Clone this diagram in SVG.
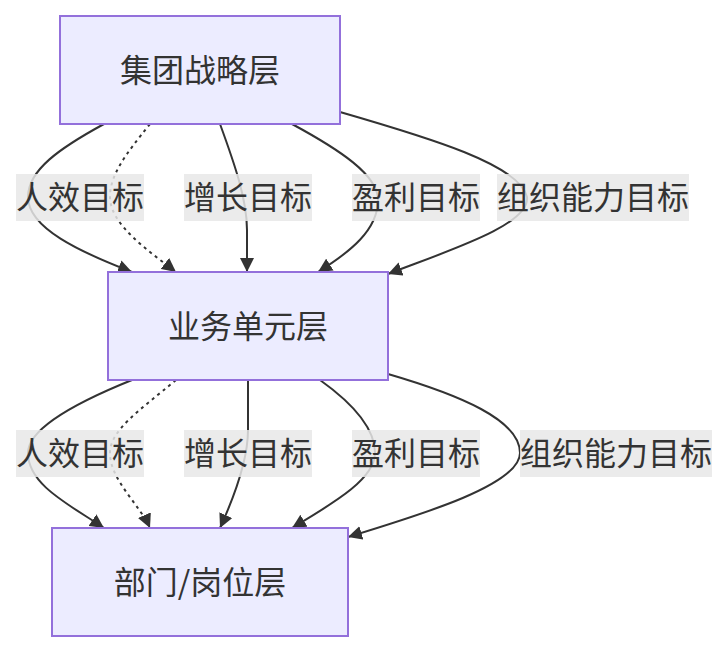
<svg xmlns="http://www.w3.org/2000/svg" width="728" height="652" viewBox="0 0 728 652">
<style>
.node rect{fill:#ECECFF;stroke:#9370DB;stroke-width:2}
text{font-family:"Noto Sans CJK SC","Noto Sans",sans-serif;font-size:32px;fill:#333;text-anchor:middle;dominant-baseline:central}
.e{fill:none;stroke:#333;stroke-width:2}
.d{stroke-dasharray:3 4}
.lb{fill:#e8e8e8;fill-opacity:0.85}
</style>
<defs>
<marker id="arr" markerUnits="userSpaceOnUse" markerWidth="14" markerHeight="14" viewBox="0 0 10 10" refX="10" refY="5" orient="auto">
<path d="M0,0 L10,5 L0,10 z" fill="#333"/>
</marker>
</defs>
<g id="edges">
<path class="e" marker-end="url(#arr)" d="M104,124 C60,148 28,170 28,197 C28,228 80,252 132,272"/>
<path class="e d" marker-end="url(#arr)" d="M150,124 C125,155 110,175 110,197 C110,225 150,252 176,272"/>
<path class="e" marker-end="url(#arr)" d="M220,124 C235,165 247,200 247,230 L247,272"/>
<path class="e" marker-end="url(#arr)" d="M292,124 C340,150 378,175 378,200 C378,230 350,252 318,272"/>
<path class="e" marker-end="url(#arr)" d="M340,112 C430,138 520,165 527,197 C530,225 450,250 388,274"/>
<path class="e" marker-end="url(#arr)" d="M132,380 C70,405 28,430 28,453 C28,485 70,505 104,528"/>
<path class="e d" marker-end="url(#arr)" d="M176,380 C140,410 110,430 110,453 C110,480 140,505 150,528"/>
<path class="e" marker-end="url(#arr)" d="M248,380 L248,430 C248,460 235,495 220,528"/>
<path class="e" marker-end="url(#arr)" d="M320,380 C355,405 375,430 375,453 C375,480 330,505 292,528"/>
<path class="e" marker-end="url(#arr)" d="M388,374 C460,395 520,420 520,453 C520,485 420,515 348,537"/>
</g>
<g id="labels">
<rect class="lb" x="16" y="174" width="128" height="47"/><text x="80" y="195">人效目标</text>
<rect class="lb" x="184" y="174" width="128" height="47"/><text x="248" y="195">增长目标</text>
<rect class="lb" x="352" y="174" width="128" height="47"/><text x="416" y="195">盈利目标</text>
<rect class="lb" x="497" y="174" width="192" height="47"/><text x="593" y="195">组织能力目标</text>
<rect class="lb" x="16" y="430" width="128" height="47"/><text x="80" y="451">人效目标</text>
<rect class="lb" x="184" y="430" width="128" height="47"/><text x="248" y="451">增长目标</text>
<rect class="lb" x="352" y="430" width="128" height="47"/><text x="416" y="451">盈利目标</text>
<rect class="lb" x="520" y="430" width="192" height="47"/><text x="616" y="451">组织能力目标</text>
</g>
<g id="n1" class="node"><rect x="60" y="16" width="280" height="108"/><text x="200" y="68">集团战略层</text></g>
<g id="n2" class="node"><rect x="108" y="272" width="280" height="108"/><text x="248" y="324">业务单元层</text></g>
<g id="n3" class="node"><rect x="52" y="528" width="296" height="108"/><text x="200" y="580">部门/岗位层</text></g>
</svg>
